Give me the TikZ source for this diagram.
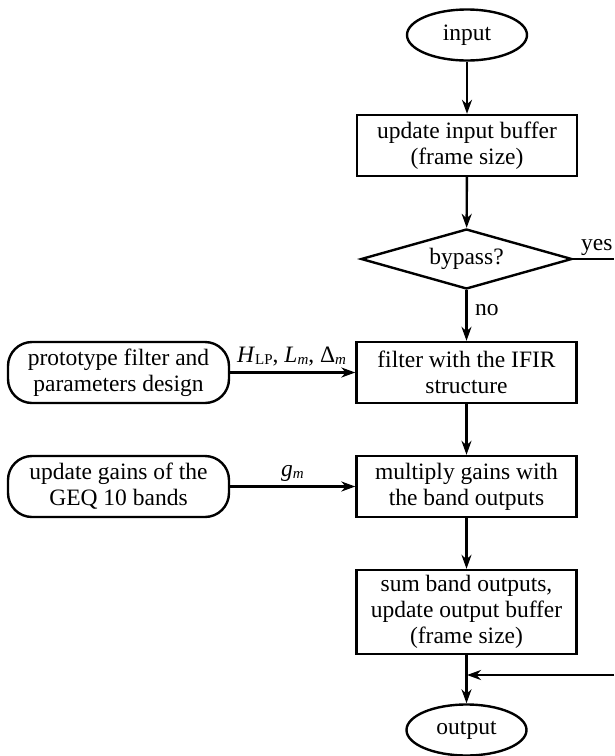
\documentclass[tikz,border=0pt]{standalone}
\usepackage{fontspec}
\setmainfont{Liberation Serif}
\usetikzlibrary{shapes.geometric,arrows.meta}

% small lowered index used in the connector labels
\newcommand{\lowidx}[1]{\raisebox{-2.5pt}{\fontsize{15}{15}\selectfont #1}}

\tikzset{
  every node/.style={font=\fontsize{23.5}{26}\selectfont},
  proc/.style={draw, line width=2.4pt, rectangle, align=center, inner sep=0pt,
               minimum width=220pt, minimum height=61pt},
  term/.style={draw, line width=2.4pt, ellipse, inner sep=0pt,
               minimum width=120pt, minimum height=51pt},
  decide/.style={draw, line width=2.4pt, diamond, shape aspect=3.5, inner sep=0pt,
                 minimum width=211pt, minimum height=60pt},
  extbox/.style={draw, line width=2.4pt, rectangle, rounded corners=24pt, align=center,
                 inner sep=0pt, minimum width=221pt, minimum height=61pt},
  flow/.style={line width=2.4pt, -{Stealth[length=14pt, width=10pt, inset=4.5pt]}},
  plain/.style={line width=2.4pt},
  lbl/.style={inner sep=0pt}
}

\begin{document}
\begin{tikzpicture}[x=1pt, y=-1pt]
  \useasboundingbox (0,0) rectangle (614,756);

  % main column
  \node[term]   (in)   at (467,35)    {input};
  \node[proc]   (ibuf) at (467,145.5) {update input buffer\\(frame size)};
  \node[decide] (byp)  at (466.5,259) {bypass?};
  \node[proc]   (ifir) at (466.5,372.5) {filter with the IFIR\\structure};
  \node[proc]   (mult) at (466.5,486.5) {multiply gains with\\the band outputs};
  \node[proc, minimum height=84pt] (sum) at (466.5,612) {sum band outputs,\\update output buffer\\(frame size)};
  \node[term]   (out)  at (466.5,730) {output};

  % side inputs
  \node[extbox] (proto) at (118.5,372.5) {prototype filter and\\parameters design};
  \node[extbox] (gains) at (118.5,486.5) {update gains of the\\GEQ 10 bands};

  % bypass route ends
  \coordinate (yesend) at (614,259);
  \coordinate (retstart) at (614,675);
  \coordinate (join) at (467,675);

  % main flow
  \draw[flow] (in) -- (ibuf);
  \draw[flow] (ibuf) -- (byp);
  \draw[flow] (byp) -- (ifir);
  \draw[flow] (ifir) -- (mult);
  \draw[flow] (mult) -- (sum);
  \draw[flow] (sum) -- (out);

  % side flows
  \draw[flow] (proto) -- (ifir);
  \draw[flow] (gains) -- (mult);

  % bypass branch
  \draw[plain] (byp.east) -- (yesend);
  \draw[flow] (retstart) -- (join);

  % labels
  \node[lbl, anchor=base west] (nolbl) at (475,315) {no};
  \node[lbl, anchor=base west] (yeslbl) at (581,250) {yes};
  \node[lbl, anchor=base west] (plbl) at (237,362)
    {\textit{H}\lowidx{LP}, \textit{L}\lowidx{\textit{m}}, Δ\lowidx{\textit{m}}};
  \node[lbl, anchor=base west] (glbl) at (281,476) {\textit{g}\lowidx{\textit{m}}};
\end{tikzpicture}
\end{document}
